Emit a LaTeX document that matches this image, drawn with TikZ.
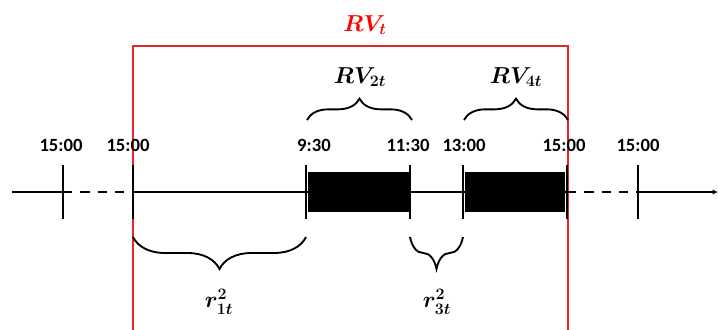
\documentclass[tikz,border=0pt]{standalone}
\usepackage{amsmath, amssymb}
\usepackage{fontspec}
\setmainfont{Carlito}
\usepackage{tikz}
\usetikzlibrary{positioning, arrows.meta, calc, decorations.pathreplacing}
\definecolor{Frame}{HTML}{E8262A}
\definecolor{FrameText}{HTML}{FF0000}

\tikzset{
  timeline/.style={line width=1.5pt, black},
  tickmark/.style={line width=1.8pt, black},
  gapline/.style={line width=1.5pt, dash pattern=on 7pt off 6pt},
  session/.style={fill=black, draw=none},
  timelabel/.style={font=\bfseries\fontsize{14}{16}\selectfont, inner sep=0pt},
  bracetop/.style={decorate, line width=1.4pt,
    decoration={brace, amplitude=16pt, aspect=0.5}},
  bracebot/.style={decorate, line width=1.4pt,
    decoration={brace, mirror, amplitude=24pt, aspect=0.5}},
  mathlabel/.style={font=\fontsize{17}{20}\selectfont\boldmath, inner sep=0pt},
}

\begin{document}
\begin{tikzpicture}[x=0.75pt, y=-0.75pt]
      \useasboundingbox (0,0) rectangle (718,329);
      % points on the axis
      \coordinate (start) at (12,192);
      \coordinate (end) at (718,192);
      \coordinate (t0) at (63,192);
      \coordinate (t1) at (133,192);
      \coordinate (t2) at (306,192);
      \coordinate (t3) at (410,192);
      \coordinate (t4) at (463,192);
      \coordinate (t5) at (567,192);
      \coordinate (t6) at (638,192);
      % red frame
      \coordinate (frameL) at (133,340);
      \coordinate (frameR) at (568,340);
      \draw[Frame, line width=0.8pt] (frameL) |- (568,46) -- (frameR);
      \node[mathlabel, text=FrameText] (rvt) at (365,25) {$RV_t$};
      % trading sessions
      \node[session, minimum width=76.5pt, minimum height=30pt] (s1) at (359,192) {};
      \node[session, minimum width=75pt, minimum height=30pt] (s2) at (515,192) {};
      % axis
      \draw[timeline] (start) -- (t0);
      \draw[gapline] (t0) -- (t1);
      \draw[timeline] (t1) -- (t5);
      \draw[gapline] (t5) -- (t6);
      \draw[timeline, -{Latex[length=4pt, width=4pt]}] (t6) -- (end);
      % ticks
      \foreach \t in {t0,t1,t2,t3,t4,t5,t6}
        \draw[tickmark] ($(\t)+(0,-27)$) -- ($(\t)+(0,27)$);
      % times
      \node[timelabel] (l0) at (61,145) {15:00};
      \node[timelabel] (l1) at (128,145) {15:00};
      \node[timelabel] (l2) at (314,145) {9:30};
      \node[timelabel] (l3) at (408,145) {11:30};
      \node[timelabel] (l4) at (464,145) {13:00};
      \node[timelabel] (l5) at (564,145) {15:00};
      \node[timelabel] (l6) at (638,145) {15:00};
      % braces above
      \draw[bracetop] (307,120) -- (412,120);
      \draw[bracetop] (464,120) -- (568,120);
      \node[mathlabel] (rv2) at (360,77) {$RV_{2t}$};
      \node[mathlabel] (rv4) at (516,77) {$RV_{4t}$};
      % braces below
      \draw[bracebot] (133,237) -- (306,237);
      \draw[bracebot] (410,237) -- (463,237);
      \node[mathlabel] (r1) at (219,302) {$r^2_{1t}$};
      \node[mathlabel] (r3) at (437,302) {$r^2_{3t}$};
\end{tikzpicture}
\end{document}
